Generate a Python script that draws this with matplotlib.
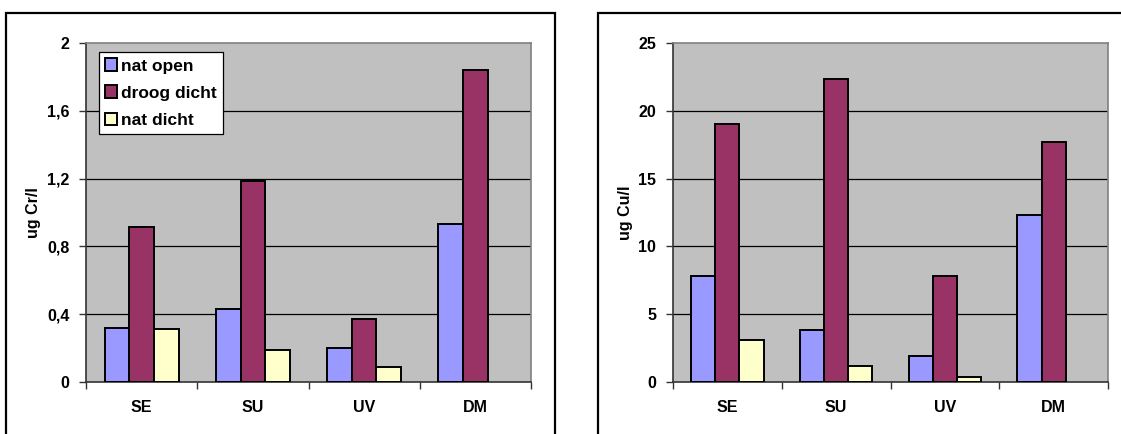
import matplotlib
matplotlib.use("Agg")
import matplotlib.pyplot as plt
from matplotlib.patches import Rectangle
from matplotlib.ticker import FixedLocator
import numpy as np

plt.rcParams['font.family'] = ['Liberation Sans', 'DejaVu Sans']
plt.rcParams['font.weight'] = 'bold'

categories = ["SE", "SU", "UV", "DM"]
series_names = ["nat open", "droog dicht", "nat dicht"]
colors = ["#9999FF", "#993366", "#FFFFCC"]

cr_nat_open = [0.319, 0.433, 0.203, 0.934]
cr_droog_dicht = [0.916, 1.186, 0.374, 1.842]
cr_nat_dicht = [0.315, 0.187, 0.089, np.nan]

cu_nat_open = [7.81, 3.82, 1.95, 12.29]
cu_droog_dicht = [19.0, 22.36, 7.81, 17.73]
cu_nat_dicht = [3.13, 1.18, 0.37, np.nan]

cr_ticks = [0, 0.4, 0.8, 1.2, 1.6, 2.0]
cr_ticklabels = ["0", "0,4", "0,8", "1,2", "1,6", "2"]
cu_ticks = [0, 5, 10, 15, 20, 25]
cu_ticklabels = ["0", "5", "10", "15", "20", "25"]

FS = 11.5
W, H = 1121, 434
fig = plt.figure(figsize=(W / 100, H / 100), dpi=100)

# outer chart boxes
for x0, x1 in [(6, 555), (598, 1130)]:
    fig.patches.append(Rectangle((x0 / W, -0.05), (x1 - x0) / W, 1.05 - 12.5 / H,
                                 transform=fig.transFigure, fill=False,
                                 edgecolor="black", linewidth=1.6))

def make_ax(px0, px1, series, ticks, ticklabels, ylabel, legend):
    ax = fig.add_axes([px0 / W, 1 - 382 / H, (px1 - px0) / W, (382 - 43) / H])
    ax.set_facecolor("#C0C0C0")
    x = np.arange(len(categories))
    bw = 1 / 4.5
    for i, (vals, c, name) in enumerate(zip(series, colors, series_names)):
        ax.bar(x + (i - 1) * bw, vals, width=bw, color=c, edgecolor="black",
               linewidth=1.4, label=name, zorder=3)
    for t in ticks[1:-1]:
        ax.axhline(t, color="black", linewidth=0.9, zorder=1)
    ax.set_xlim(-0.5, len(categories) - 0.5)
    ax.set_ylim(ticks[0], ticks[-1])
    ax.set_yticks(ticks)
    ax.set_yticklabels(ticklabels, fontsize=FS, fontweight="bold")
    ax.xaxis.set_major_locator(FixedLocator(np.arange(-0.5, len(categories), 1.0)))
    ax.xaxis.set_major_formatter(plt.NullFormatter())
    ax.xaxis.set_minor_locator(FixedLocator(x))
    ax.set_xticklabels(categories, minor=True, fontsize=FS, fontweight="bold")
    ax.tick_params(axis="x", which="major", length=5, width=1, color="#333333", direction="out")
    ax.tick_params(axis="x", which="minor", length=0, pad=13)
    ax.tick_params(axis="y", length=5, width=1, color="#333333", direction="out", pad=7)
    for s in ["top", "right"]:
        ax.spines[s].set_color("#808080")
        ax.spines[s].set_linewidth(1.2)
    for s in ["left", "bottom"]:
        ax.spines[s].set_color("#333333")
        ax.spines[s].set_linewidth(1.2)
    ax.set_ylabel(ylabel, fontsize=FS, fontweight="bold", labelpad=4)
    if legend:
        leg = ax.legend(loc="upper left", bbox_to_anchor=(0.029, 0.973), fontsize=FS + 1,
                        frameon=True, fancybox=False, edgecolor="black", framealpha=1,
                        handlelength=0.7, handleheight=0.75, handletextpad=0.25,
                        borderpad=0.35, labelspacing=0.68, borderaxespad=0)
        leg.get_frame().set_linewidth(0.9)
        for t in leg.get_texts():
            t.set_fontweight("bold")
    return ax

make_ax(86, 531, [cr_nat_open, cr_droog_dicht, cr_nat_dicht], cr_ticks, cr_ticklabels,
        "ug Cr/l", True)
make_ax(673, 1108, [cu_nat_open, cu_droog_dicht, cu_nat_dicht], cu_ticks, cu_ticklabels,
        "ug Cu/l", False)

fig.savefig("out.png", dpi=100)
